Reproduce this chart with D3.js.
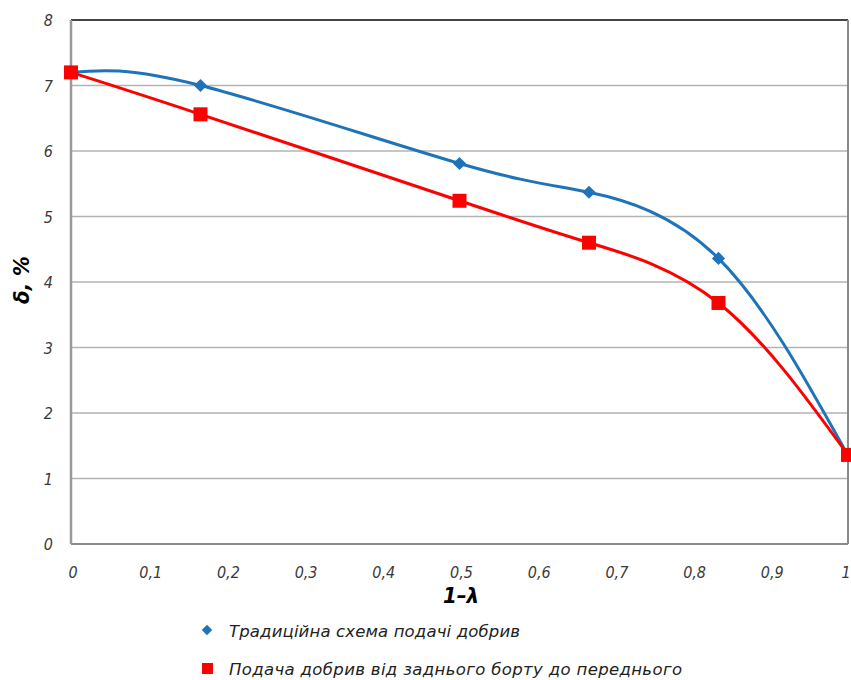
<!DOCTYPE html>
<html>
<head>
<meta charset="utf-8">
<script src="https://cdn.jsdelivr.net/npm/d3@7"></script>
<style>
  body { margin: 0; background: #fff; }
  svg { display: block; }
  .tick-label { font-family: "Liberation Sans Narrow", "DejaVu Sans Condensed", sans-serif; font-style: italic; font-size: 16px; fill: #3a3a3a; }
  .axis-title { font-family: "DejaVu Sans Condensed", "Liberation Sans Narrow", sans-serif; font-style: italic; font-weight: bold; font-size: 22px; fill: #000; }
  .legend-text { font-family: "DejaVu Sans", "Roboto", sans-serif; font-style: italic; font-size: 16.5px; fill: #222; }
</style>
</head>
<body>
<svg width="851" height="680"></svg>
<script>
// data
const xValues = [0, 1/6, 0.5, 2/3, 5/6, 1];
const traditional = [7.2, 7.0, 5.81, 5.37, 4.36, 1.35];
const backToFront = [7.2, 6.56, 5.24, 4.6, 3.68, 1.36];
const xTicks = [0, 0.1, 0.2, 0.3, 0.4, 0.5, 0.6, 0.7, 0.8, 0.9, 1];
const yTicks = [0, 1, 2, 3, 4, 5, 6, 7, 8];
const seriesNames = ["Традиційна схема подачі добрив", "Подача добрив від заднього борту до переднього"];

const svg = d3.select("svg");
const plotLeft = 71, plotRight = 848, plotTop = 20, plotBottom = 544;

const x = d3.scaleLinear().domain([0, 1]).range([plotLeft, plotRight]);
const y = d3.scaleLinear().domain([0, 8]).range([plotBottom, plotTop]);

const fmt = d => d === 0 || d === 1 ? String(d) : String(d).replace(".", ",");

// gridlines
svg.append("g")
    .selectAll("line")
    .data(yTicks.filter(d => d > 0 && d < 8))
    .enter()
    .append("line")
    .attr("x1", plotLeft).attr("x2", plotRight)
    .attr("y1", d => y(d)).attr("y2", d => y(d))
    .attr("stroke", "#b3b3b3")
    .attr("stroke-width", 1.5);

// frame
svg.append("line").attr("x1", plotLeft).attr("x2", plotRight).attr("y1", plotTop).attr("y2", plotTop)
    .attr("stroke", "#444").attr("stroke-width", 2);
svg.append("line").attr("x1", plotLeft).attr("x2", plotRight).attr("y1", plotBottom).attr("y2", plotBottom)
    .attr("stroke", "#8a8a8a").attr("stroke-width", 2);
svg.append("line").attr("x1", plotRight).attr("x2", plotRight).attr("y1", plotTop).attr("y2", plotBottom)
    .attr("stroke", "#8a8a8a").attr("stroke-width", 2);
svg.append("line").attr("x1", plotLeft).attr("x2", plotLeft).attr("y1", plotTop).attr("y2", plotBottom)
    .attr("stroke", "#999").attr("stroke-width", 2.5);

// tick labels
svg.append("g")
    .selectAll("text")
    .data(yTicks)
    .enter()
    .append("text")
    .attr("class", "tick-label")
    .attr("x", 53)
    .attr("y", d => y(d) + 6)
    .attr("text-anchor", "end")
    .text(fmt);

svg.append("g")
    .selectAll("text")
    .data(xTicks)
    .enter()
    .append("text")
    .attr("class", "tick-label")
    .attr("x", d => Math.min(x(d) + 2, 846))
    .attr("y", 578)
    .attr("text-anchor", "middle")
    .text(fmt);

// axis titles
svg.append("text")
    .attr("class", "axis-title")
    .attr("x", 461).attr("y", 603)
    .attr("text-anchor", "middle")
    .text("1–λ");

svg.append("text")
    .attr("class", "axis-title")
    .attr("transform", "translate(29,280) rotate(-90)")
    .attr("text-anchor", "middle")
    .text("δ, %");

// lines (natural spline ~ Excel smoothed line)
const line = d3.line()
    .curve(d3.curveNatural)
    .x(d => x(d[0]))
    .y(d => y(d[1]));

const blueColor = "#1f73b8", redColor = "#ff0000";
const bluePts = xValues.map((v, i) => [v, traditional[i]]);
const redPts = xValues.map((v, i) => [v, backToFront[i]]);

svg.append("path").attr("d", line(bluePts))
    .attr("fill", "none").attr("stroke", blueColor).attr("stroke-width", 3);

svg.append("g")
    .selectAll("path")
    .data(bluePts)
    .enter()
    .append("path")
    .attr("d", d3.symbol(d3.symbolDiamond2, 110))
    .attr("transform", d => `translate(${x(d[0])},${y(d[1])})`)
    .attr("fill", blueColor);

svg.append("path").attr("d", line(redPts))
    .attr("fill", "none").attr("stroke", redColor).attr("stroke-width", 3);

svg.append("g")
    .selectAll("rect")
    .data(redPts)
    .enter()
    .append("rect")
    .attr("x", d => x(d[0]) - 7)
    .attr("y", d => y(d[1]) - 7)
    .attr("width", 14).attr("height", 14)
    .attr("fill", redColor);

// legend
const legend = svg.append("g");
legend.append("path")
    .attr("d", d3.symbol(d3.symbolDiamond2, 70))
    .attr("transform", "translate(207,630)")
    .attr("fill", blueColor);
legend.append("rect")
    .attr("x", 202).attr("y", 663).attr("width", 11).attr("height", 11)
    .attr("fill", redColor);
const legendWidths = [291, 453];
legend.selectAll("text")
    .data(seriesNames)
    .enter()
    .append("text")
    .attr("class", "legend-text")
    .attr("x", 229)
    .attr("y", (d, i) => 637 + i * 38)
    .attr("textLength", (d, i) => legendWidths[i])
    .attr("lengthAdjust", "spacing")
    .text(d => d);
</script>
</body>
</html>
